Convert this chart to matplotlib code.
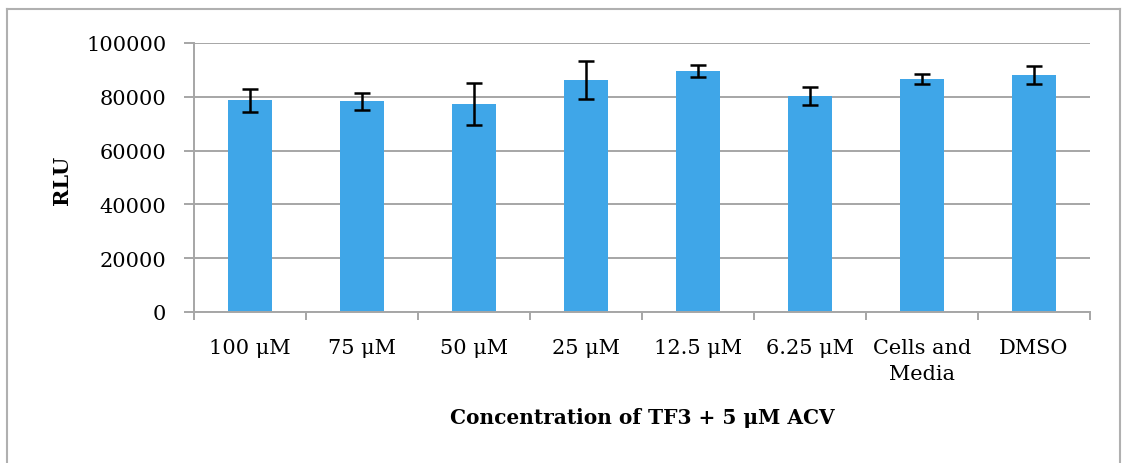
import matplotlib
matplotlib.use("Agg")
import matplotlib.pyplot as plt
import numpy as np

categories = ["100 μM", "75 μM", "50 μM", "25 μM", "12.5 μM", "6.25 μM", "Cells and\nMedia", "DMSO"]
values = [78700, 78300, 77300, 86300, 89700, 80200, 86500, 88200]
errors = [4200, 3200, 7700, 7000, 2200, 3300, 1900, 3400]
yticks = [0, 20000, 40000, 60000, 80000, 100000]

plt.rcParams['font.family'] = ['DejaVu Serif']

fig = plt.figure(figsize=(11.24, 4.64), dpi=100)
W, H = 1124, 464
ax = fig.add_axes([194 / W, 1 - 313 / H, (1090 - 194) / W, (313 - 44) / H])

x = np.arange(len(categories))
ax.bar(x, values, width=0.39, color="#3FA6E8", zorder=2)
ax.errorbar(x, values, yerr=errors, fmt="none", ecolor="black", elinewidth=1.8,
            capsize=5.5, capthick=1.8, zorder=3)

ax.set_xlim(-0.5, len(categories) - 0.5)
ax.set_ylim(0, 100000)
ax.set_yticks(yticks)
ax.set_yticklabels([str(v) for v in yticks], fontsize=15)
ax.yaxis.grid(True, color="#A6A6A6", linewidth=1.4, zorder=0)
ax.set_axisbelow(True)

ax.set_xticks(np.arange(-0.5, len(categories), 1.0))
ax.set_xticklabels([])
ax.set_xticks(x, minor=True)
ax.set_xticklabels(categories, minor=True, fontsize=15, linespacing=1.45)
ax.tick_params(axis="x", which="minor", length=0, pad=19)
ax.tick_params(axis="x", which="major", length=6, width=1.4, color="#A6A6A6", direction="out")
ax.tick_params(axis="y", length=7, width=1.4, color="#A6A6A6", pad=13)

for s in ["top", "right"]:
    ax.spines[s].set_visible(False)
for s in ["left", "bottom"]:
    ax.spines[s].set_color("#A6A6A6")
    ax.spines[s].set_linewidth(1.4)

fig.text(62 / W, 1 - 180 / H, "RLU", fontsize=15, fontweight="bold", rotation=90,
         ha="center", va="center")
fig.text(642 / W, 1 - 418 / H, "Concentration of TF3 + 5 μM ACV", fontsize=14.5,
         fontweight="bold", ha="center", va="center")

# outer chart border
fig.add_artist(plt.Line2D([7 / W, 7 / W], [0, 1 - 10 / H], transform=fig.transFigure,
                          color="#B0B0B0", linewidth=1.5))
fig.add_artist(plt.Line2D([7 / W, 1120 / W], [1 - 10 / H, 1 - 10 / H], transform=fig.transFigure,
                          color="#B0B0B0", linewidth=1.5))
fig.add_artist(plt.Line2D([1120 / W, 1120 / W], [0, 1 - 10 / H], transform=fig.transFigure,
                          color="#B0B0B0", linewidth=1.5))

fig.savefig("out.png", dpi=100)
